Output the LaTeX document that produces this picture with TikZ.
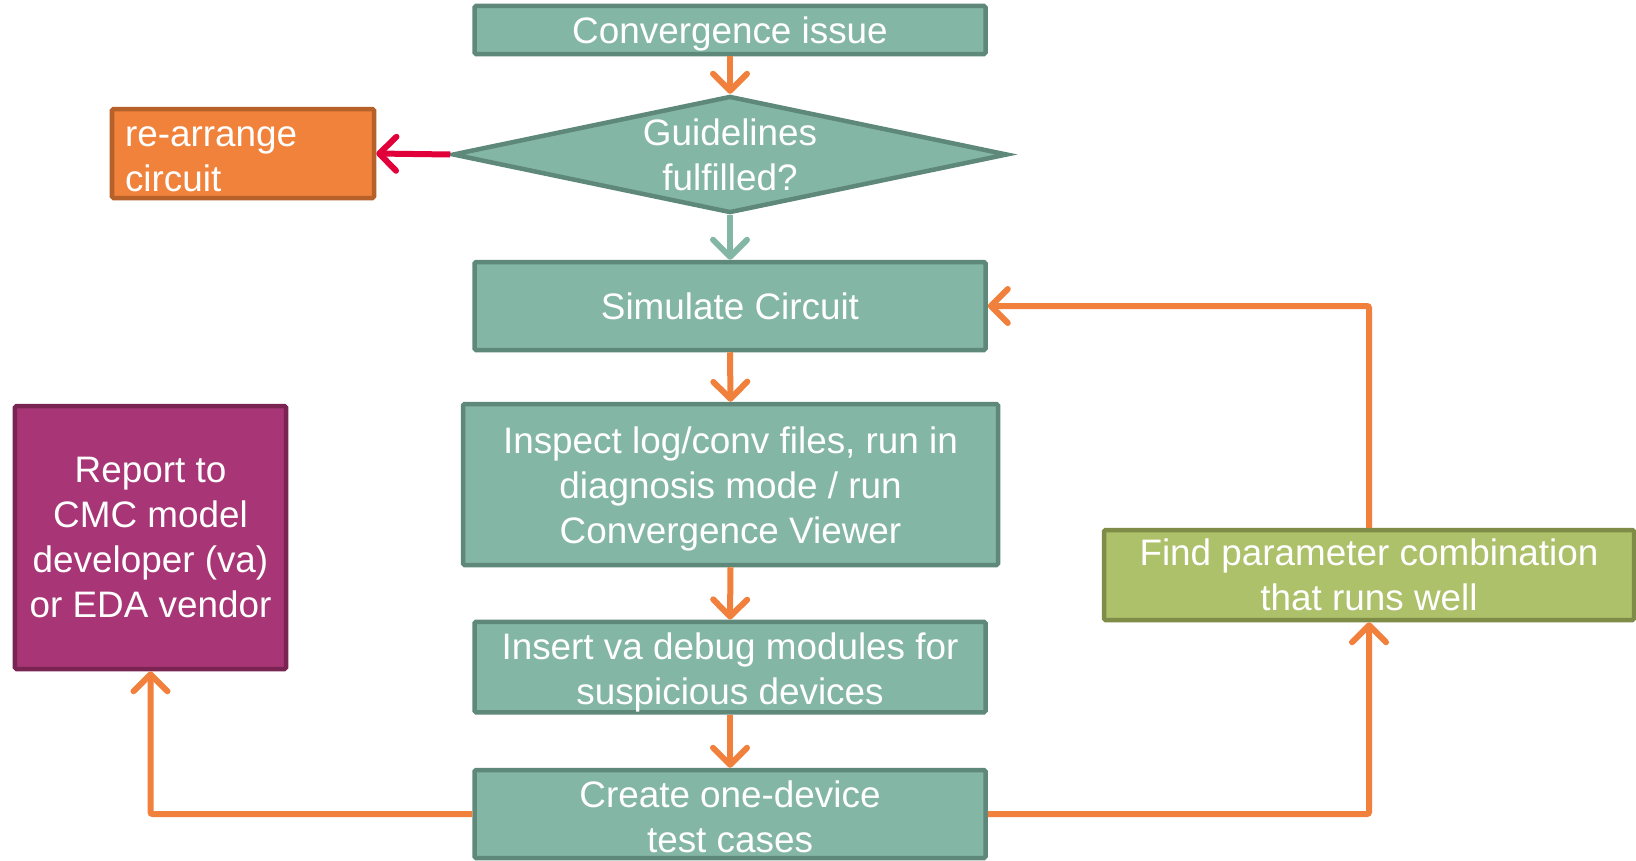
\documentclass[tikz,border=0pt]{standalone}
\usepackage{fontspec}
\setmainfont{Liberation Sans}
\usetikzlibrary{shapes.geometric,arrows.meta}
\definecolor{tealfill}{RGB}{132,182,165}
\definecolor{tealline}{RGB}{94,136,121}
\definecolor{arrorange}{RGB}{240,128,60}
\definecolor{orfill}{RGB}{240,130,60}
\definecolor{orline}{RGB}{182,96,42}
\definecolor{magfill}{RGB}{168,53,117}
\definecolor{magline}{RGB}{122,36,84}
\definecolor{grfill}{RGB}{173,192,106}
\definecolor{grline}{RGB}{126,140,72}
\definecolor{arrred}{RGB}{226,0,58}
% a tall strut on the first line sets the text a little lower in its box
\newcommand\lowstrut[1]{\rule{0pt}{#1}}
\begin{document}
\begin{tikzpicture}[x=1bp,y=-1bp,
  basebox/.style={line width=4.5bp, text=white, inner sep=0pt,
    font=\fontsize{37}{45}\selectfont, rounded corners=1.5bp},
  tealbox/.style={basebox, draw=tealline, fill=tealfill, align=center},
  flowtip/.style={-{Straight Barb[length=17bp,width=34bp,line cap=round,line join=round]}},
  flow/.style={flowtip, draw=arrorange, line width=6bp},
  tealflow/.style={flowtip, draw=tealfill, line width=6bp},
  redflow/.style={flowtip, draw=arrred, line width=6bp},
  loopflow/.style={flow, rounded corners=2bp}]
\useasboundingbox (0,0) rectangle (1636,860);

% main column
\node[tealbox, minimum width=511bp, minimum height=48bp] (conv) at (730,30)
  {\lowstrut{35bp}Convergence issue};
\node[diamond, aspect=4.5, basebox, draw=tealline, fill=tealfill, align=center, rounded corners=0pt,
      minimum width=555bp, minimum height=117bp] (guide) at (730,154.5) {Guidelines\\fulfilled?};
\node[tealbox, minimum width=511bp, minimum height=88bp] (sim) at (730,306) {Simulate Circuit};
\node[tealbox, minimum width=535bp, minimum height=161bp] (insp) at (730.5,484.5)
  {\lowstrut{36bp}Inspect log/conv files, run in\\diagnosis mode / run\\Convergence Viewer};
\node[tealbox, minimum width=511bp, minimum height=88bp] (ins) at (730,667)
  {\lowstrut{38bp}Insert va debug modules for\\suspicious devices};
\node[tealbox, minimum width=511bp, minimum height=88bp] (create) at (730,814)
  {\lowstrut{32bp}Create one-device\\test cases};

% side boxes
\node[basebox, draw=orline, fill=orfill, minimum width=262bp, minimum height=89bp,
      text width=236bp, align=left] (rearr) at (243,153.5) {\lowstrut{32bp}re-arrange\\circuit};
\node[basebox, draw=magline, fill=magfill, minimum width=271bp, minimum height=263bp,
      align=center] (report) at (150.5,537.5)
  {Report to\\CMC model\\developer (va)\\or EDA vendor};
\node[basebox, draw=grline, fill=grfill, minimum width=530bp, minimum height=90bp,
      align=center] (find) at (1369,575)
  {Find parameter combination\\that runs well};

% connectors
\draw[flow] (conv.south) -- (guide.north);
\draw[tealflow] (guide.south) -- (sim.north);
\draw[redflow] (guide.west) -- (rearr.east);
\draw[flow] (sim.south) -- (insp.north);
\draw[flow] (insp.south) -- (ins.north);
\draw[flow] (ins.south) -- (create.north);
\draw[loopflow] (create.west) -| (report.south);
\draw[loopflow] (create.east) -| (find.south);
\draw[loopflow] (find.north) |- (sim.east);
\end{tikzpicture}
\end{document}
